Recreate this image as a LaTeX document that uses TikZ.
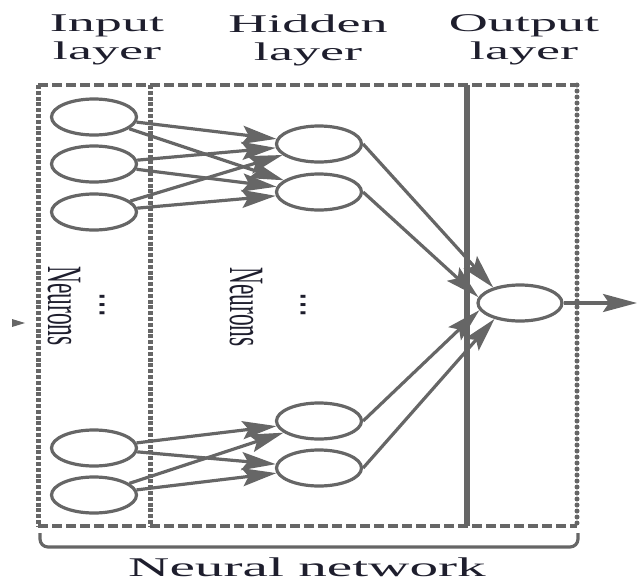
\documentclass[tikz,border=0pt]{standalone}
\usepackage{fontspec}
\setmainfont{Liberation Serif}
\newfontfamily\symfont{DejaVu Sans}
\usepackage{graphicx}
\usetikzlibrary{arrows.meta,positioning,shapes.geometric}
\definecolor{netgray}{RGB}{102,102,102}
\definecolor{ink}{RGB}{30,30,45}
\newcommand{\widetxt}[1]{\scalebox{2.12}[1]{#1}}

\begin{document}
\begin{tikzpicture}[x=1pt,y=-1pt,
  neuron/.style={ellipse,draw=netgray,line width=3.2pt,minimum width=85pt,minimum height=36pt,inner sep=0pt},
  arr/.style={-{Stealth[length=34pt,width=18pt,inset=6pt]},draw=netgray,line width=3.2pt},
  lbl/.style={text=ink,inner sep=0pt,align=center,font=\fontsize{25.5}{28}\selectfont},
  vlbl/.style={text=ink,inner sep=0pt,rotate=-90,font=\fontsize{23.5}{26}\selectfont},
  dots/.style={text=ink,inner sep=0pt,font=\symfont\fontsize{24}{24}\selectfont}]
  \useasboundingbox (0,0) rectangle (641,582);
  % frame of the three layers
  \draw[netgray,line width=3.4pt,dash pattern=on 10pt off 4pt] (38,85) -- (577,85) (38,526) -- (577,526);
  \draw[netgray,line width=5pt,dash pattern=on 4pt off 1.8pt] (38,85) -- (38,526) (150,85) -- (150,526);
  \draw[netgray,line width=5pt,dash pattern=on 0pt off 6pt,line cap=round] (577,85) -- (577,526);
  \draw[netgray,line width=6.5pt] (467,85) -- (467,526);
  \draw[netgray,line width=3.2pt,rounded corners=8pt] (40,533) -- (40,547) -- (578,547) -- (578,533);
  \fill[netgray] (12,319) -- (25,323) -- (12,327) -- cycle;
  % neurons
  \node[neuron] (i1) at (94,117) {};
  \node[neuron] (i2) at (94,164) {};
  \node[neuron] (i3) at (94,212) {};
  \node[neuron] (i4) at (94,448) {};
  \node[neuron] (i5) at (94,495) {};
  \node[neuron] (h1) at (319,144) {};
  \node[neuron] (h2) at (319,192) {};
  \node[neuron] (h3) at (319,421) {};
  \node[neuron] (h4) at (319,468) {};
  \node[neuron,minimum width=84pt] (o) at (520,303) {};
  \coordinate (oend) at (637,303);
  % connections
  \foreach \s in {i1,i2,i3}{\foreach \t in {h1,h2}{\draw[arr] (\s) -- (\t);}}
  \foreach \s in {i4,i5}{\foreach \t in {h3,h4}{\draw[arr] (\s) -- (\t);}}
  \foreach \s/\a in {h1/150,h2/172,h3/190,h4/212}{\draw[arr] (\s.east) -- (o.\a);}
  \draw[arr] (o) -- (oend);
  % labels
  \node[lbl] (inlbl) at (107,40) {\widetxt{Input}\\\widetxt{layer}};
  \node[lbl] (hidlbl) at (308,40) {\widetxt{Hidden}\\\widetxt{layer}};
  \node[lbl] (outlbl) at (524,40) {\widetxt{Output}\\\widetxt{layer}};
  \node[lbl,anchor=base,font=\fontsize{27}{30}\selectfont] (netlbl) at (307,576) {\widetxt{Neural network}};
  \node[vlbl] (inneur) at (64,306) {\scalebox{1}[2.1]{Neurons}};
  \node[vlbl] (hidneur) at (246,307) {\scalebox{1}[2.1]{Neurons}};
  \node[dots] (indots) at (102,305) {\scalebox{2}[1]{⋮}};
  \node[dots] (hiddots) at (303,305) {\scalebox{2}[1]{⋮}};
\end{tikzpicture}
\end{document}
